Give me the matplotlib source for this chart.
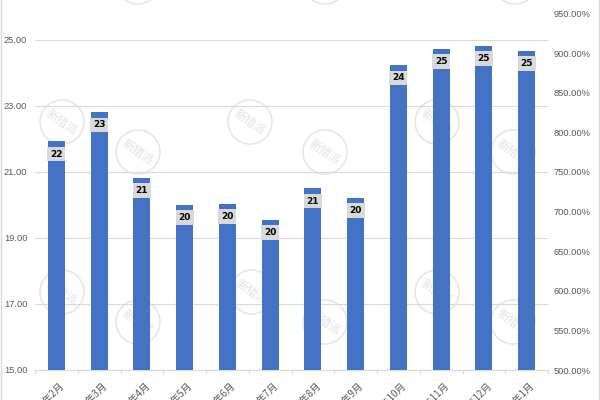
import numpy as np
import matplotlib
matplotlib.use("Agg")
import matplotlib.pyplot as plt
from matplotlib.patches import Circle
from matplotlib.lines import Line2D
from matplotlib.transforms import ScaledTranslation
from matplotlib.ticker import FuncFormatter, FixedLocator

# ---------------- data ----------------
categories = ["2023年2月", "2023年3月", "2023年4月", "2023年5月", "2023年6月", "2023年7月",
              "2023年8月", "2023年9月", "2023年10月", "2023年11月", "2023年12月", "2024年1月"]
values = [21.93, 22.81, 20.82, 20.01, 20.04, 19.55, 20.50, 20.22, 24.24, 24.73, 24.83, 24.67]
value_labels = ["22", "23", "21", "20", "20", "20", "21", "20", "24", "25", "25", "25"]
left_ticks = [15, 17, 19, 21, 23, 25]
right_ticks = [500, 550, 600, 650, 700, 750, 800, 850, 900, 950]

# ---------------- style ----------------
BAR = "#4472C4"
GRID = "#D9D9D9"
TXT = "#595959"
CJK = ["Noto Sans CJK SC", "DejaVu Sans"]

fig = plt.figure(figsize=(6, 4), dpi=100)
fig.patch.set_facecolor("white")

# watermark (behind everything)
wm_rows = [(-18, [138, 325, 515]), (122, [62, 250, 437]), (152, [138, 325, 513]),
           (292, [62, 252, 437]), (322, [138, 325, 513])]
for yy, xs in wm_rows:
    for xx in xs:
        c = Circle((xx / 100, (400 - yy) / 100), 0.22, transform=fig.dpi_scale_trans,
                   fill=False, ec="#E6E6E6", lw=1.2, zorder=-5)
        fig.patches.append(c)
        fig.text(xx / 600, (400 - yy) / 400, "新猎派", family=CJK, fontsize=8.5,
                 color="#E2E2E2", rotation=-35, ha="center", va="center", zorder=-5)

ax = fig.add_axes([35 / 600, 30 / 400, 513 / 600, 356.6 / 400])
ax.set_zorder(1)
ax.set_facecolor("none")
x = np.arange(len(categories))
ax.bar(x, values, width=0.40, color=BAR, zorder=3)
ax.set_xlim(-0.5, len(categories) - 0.5)
ax.set_ylim(15, 15 + 356.6 / 33.0)

ax.set_yticks(left_ticks)
ax.yaxis.set_major_formatter(FuncFormatter(lambda v, p: f"{v:.2f}"))
ax.grid(axis="y", color=GRID, lw=0.8, zorder=0)
ax.set_axisbelow(True)
for s in ["left", "right", "top"]:
    ax.spines[s].set_visible(False)
ax.spines["bottom"].set_color(GRID)
ax.spines["bottom"].set_linewidth(0.8)
ax.tick_params(axis="y", length=0, pad=5.5, labelsize=6.7, labelcolor=TXT)
for t in ax.get_yticklabels():
    t.set_family("Liberation Sans")

ax.set_xticks(x)
ax.set_xticklabels(categories, rotation=45, ha="right", va="top",
                   rotation_mode="anchor", fontsize=7, family=CJK, color=TXT)
ax.tick_params(axis="x", which="major", length=0, pad=7.5)
ax.xaxis.set_minor_locator(FixedLocator(np.arange(-0.5, len(categories), 1.0)))
ax.tick_params(axis="x", which="minor", length=3, color=GRID, width=0.8)
off = ScaledTranslation(3 / 100, 0, fig.dpi_scale_trans)
for t in ax.get_xticklabels():
    t.set_transform(t.get_transform() + off)

for xi, v, lab in zip(x, values, value_labels):
    ax.annotate(lab, xy=(xi, v), xytext=(0, -12.7), textcoords="offset pixels",
                ha="center", va="center", fontsize=6.5, fontweight="bold", color="black",
                bbox=dict(boxstyle="square,pad=0.3", fc="#D9D9D9", ec="none"), zorder=5)

ax2 = ax.twinx()
ax2.set_ylim(500, 950)
ax2.set_yticks(right_ticks)
ax2.yaxis.set_major_formatter(FuncFormatter(lambda v, p: f"{v:.2f}%"))
for s in ["left", "right", "top", "bottom"]:
    ax2.spines[s].set_visible(False)
ax2.tick_params(axis="y", length=0, pad=4.3, labelsize=6.7, labelcolor=TXT)
for t in ax2.get_yticklabels():
    t.set_family("Liberation Sans")

# chart border lines at left and right edges
fig.add_artist(Line2D([0.5 / 600, 0.5 / 600], [0, 1], color=GRID, lw=1))
fig.add_artist(Line2D([598.5 / 600, 598.5 / 600], [0, 1], color=GRID, lw=1))

fig.savefig("out.png", dpi=100)
